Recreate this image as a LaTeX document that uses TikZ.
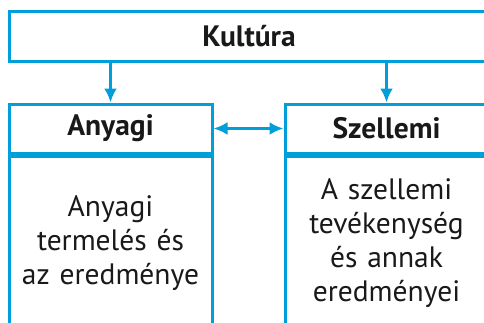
\documentclass[tikz,border=0pt]{standalone}
\usepackage{fontspec}
\setmainfont{PT Sans}
\usetikzlibrary{positioning, arrows.meta}
\definecolor{kek}{RGB}{0,158,219}

\begin{document}
\begin{tikzpicture}[
	x=1pt, y=-1pt,
	node distance=0pt and 70pt,
	block/.style={rectangle, draw=kek, line width=3pt, fill=white, inner sep=0pt,
		text=black!90, align=center},
	head/.style={block, minimum width=203pt, minimum height=49pt,
		font=\bfseries\fontsize{29.5}{34}\selectfont},
	body/.style={block, minimum width=203pt, minimum height=174pt,
		text width=200pt, font=\fontsize{29.5}{34}\selectfont},
	line/.style={draw=kek, line width=3pt, -{Latex[length=14pt, width=13pt]}},
	both/.style={line, {Latex[length=14pt, width=13pt]}-{Latex[length=14pt, width=13pt]}},
	]
	\useasboundingbox (0,0) rectangle (484,322);
	\clip (0,0) rectangle (484,322);
	
	\node [block, minimum width=480pt, minimum height=50pt,
		font=\bfseries\fontsize{29.5}{34}\selectfont] (kultura) at (249,36) {Kultúra};
	\node [head] (anyagi) at (110.5,128.5) {Anyagi};
	\node [head, right= of anyagi] (szellemi) {Szellemi};
	\node [body, below= of anyagi] (anyagitext) {Anyagi\\termelés és\\az eredménye};
	\node [body, below= of szellemi] (szellemitext) {A szellemi\\tevékenység\\és annak\\eredményei};
	\path [line] (kultura.south -| anyagi.north) -- (anyagi.north);
	\path [line] (kultura.south -| szellemi.north) -- (szellemi.north);
	\path [both] (anyagi) -- (szellemi);
\end{tikzpicture}
\end{document}
